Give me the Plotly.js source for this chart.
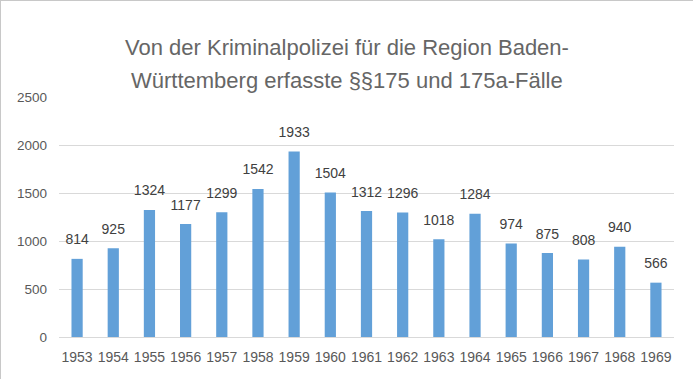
<!DOCTYPE html>
<html><head><meta charset="utf-8">
<script src="https://cdn.plot.ly/plotly-3.0.1.min.js"></script>
<style>body{margin:0;padding:0;background:#fff}#c{width:693px;height:379px}</style>
</head><body><div id="c"></div>
<script>
const years = ["1953","1954","1955","1956","1957","1958","1959","1960","1961","1962","1963","1964","1965","1966","1967","1968","1969"];
const cases = [814,925,1324,1177,1299,1542,1933,1504,1312,1296,1018,1284,974,875,808,940,566];
const yTicks = [0,500,1000,1500,2000,2500];
const titleLines = ["Von der Kriminalpolizei für die Region Baden-", "Württemberg erfasste §§175 und 175a-Fälle"];
const F = "Liberation Sans, Arial, sans-serif";

Plotly.newPlot("c", [{
  type: "bar", x: years, y: cases,
  marker: {color: "#62A0D8"},
  width: 0.31,
  hoverinfo: "none"
}, {
  type: "scatter", mode: "markers+text", x: years, y: cases,
  text: cases.map(String), textposition: "top center", cliponaxis: false,
  marker: {size: 16, opacity: 0},
  textfont: {family: F, size: 14, color: "#404040"},
  hoverinfo: "none"
}], {
  width: 693, height: 379,
  margin: {l: 58, r: 20, t: 96, b: 43},
  paper_bgcolor: "#fff", plot_bgcolor: "#fff",
  annotations: titleLines.map((t, i) => ({
    text: t, xref: "paper", yref: "paper", x: 0.468, y: i === 0 ? 1.205 : 1.068,
    xanchor: "center", yanchor: "middle", showarrow: false,
    font: {family: F, size: 22, color: "#666666"}
  })),
  xaxis: {type: "category", range: [-0.5, 16.5], tickfont: {family: F, size: 14, color: "#595959"},
    showline: true, linecolor: "#d9d9d9", ticks: "", showgrid: false, ticklabelstandoff: 7},
  yaxis: {range: [0, 2500], tickvals: yTicks, ticktext: yTicks.map(String),
    tickfont: {family: F, size: 13.5, color: "#595959"},
    gridcolor: "#d9d9d9", gridwidth: 1, zeroline: false, showline: false, ticks: "", ticklabelstandoff: 11},
  showlegend: false
}, {staticPlot: true});
document.getElementById("c").style.boxSizing = "border-box";
document.getElementById("c").style.border = "1px solid #c8c8c8";
</script></body></html>
